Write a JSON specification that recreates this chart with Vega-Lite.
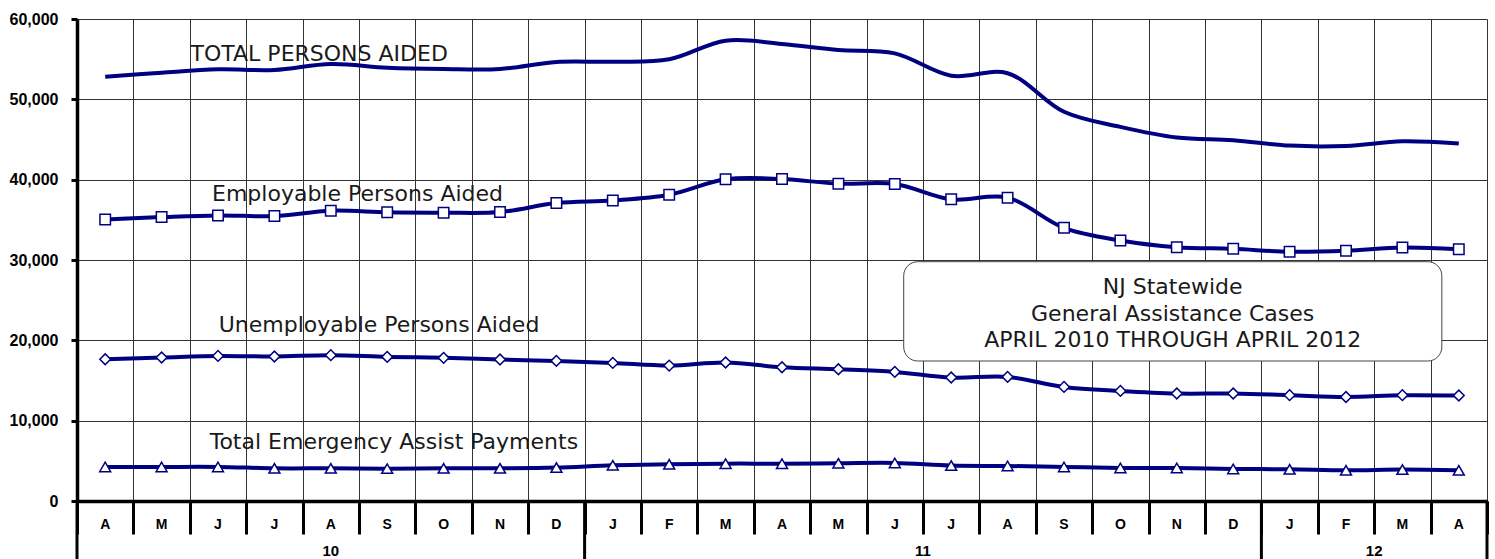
{
  "$schema": "https://vega.github.io/schema/vega-lite/v6.json",
  "width": 1410,
  "height": 482,
  "autosize": {"type": "none"},
  "padding": {"left": 77, "top": 19, "right": 8, "bottom": 58},
  "config": {
    "view": {"stroke": null},
    "axis": {"domainColor": "black", "tickColor": "black", "gridColor": "#333333", "gridWidth": 1, "gridOpacity": 1, "labelColor": "black"}
  },
  "data": {
    "values": [
      {"i": 0, "month": "2010-04", "m": "A", "year": "10", "total": 52820, "emp": 35050, "unemp": 17650, "emerg": 4240},
      {"i": 1, "month": "2010-05", "m": "M", "year": "10", "total": 53320, "emp": 35340, "unemp": 17860, "emerg": 4240},
      {"i": 2, "month": "2010-06", "m": "J", "year": "10", "total": 53730, "emp": 35550, "unemp": 18060, "emerg": 4240},
      {"i": 3, "month": "2010-07", "m": "J", "year": "10", "total": 53650, "emp": 35470, "unemp": 17990, "emerg": 4070},
      {"i": 4, "month": "2010-08", "m": "A", "year": "10", "total": 54400, "emp": 36140, "unemp": 18150, "emerg": 4070},
      {"i": 5, "month": "2010-09", "m": "S", "year": "10", "total": 53940, "emp": 35930, "unemp": 17940, "emerg": 4030},
      {"i": 6, "month": "2010-10", "m": "O", "year": "10", "total": 53770, "emp": 35890, "unemp": 17820, "emerg": 4070},
      {"i": 7, "month": "2010-11", "m": "N", "year": "10", "total": 53770, "emp": 35970, "unemp": 17610, "emerg": 4070},
      {"i": 8, "month": "2010-12", "m": "D", "year": "10", "total": 54650, "emp": 37090, "unemp": 17440, "emerg": 4160},
      {"i": 9, "month": "2011-01", "m": "J", "year": "11", "total": 54680, "emp": 37420, "unemp": 17190, "emerg": 4450},
      {"i": 10, "month": "2011-02", "m": "F", "year": "11", "total": 54980, "emp": 38130, "unemp": 16860, "emerg": 4570},
      {"i": 11, "month": "2011-03", "m": "M", "year": "11", "total": 57300, "emp": 40040, "unemp": 17240, "emerg": 4650},
      {"i": 12, "month": "2011-04", "m": "A", "year": "11", "total": 56890, "emp": 40080, "unemp": 16650, "emerg": 4650},
      {"i": 13, "month": "2011-05", "m": "M", "year": "11", "total": 56140, "emp": 39500, "unemp": 16400, "emerg": 4700},
      {"i": 14, "month": "2011-06", "m": "J", "year": "11", "total": 55720, "emp": 39460, "unemp": 16070, "emerg": 4740},
      {"i": 15, "month": "2011-07", "m": "J", "year": "11", "total": 52940, "emp": 37550, "unemp": 15370, "emerg": 4410},
      {"i": 16, "month": "2011-08", "m": "A", "year": "11", "total": 53250, "emp": 37760, "unemp": 15450, "emerg": 4360},
      {"i": 17, "month": "2011-09", "m": "S", "year": "11", "total": 48450, "emp": 34000, "unemp": 14200, "emerg": 4240},
      {"i": 18, "month": "2011-10", "m": "O", "year": "11", "total": 46570, "emp": 32430, "unemp": 13700, "emerg": 4110},
      {"i": 19, "month": "2011-11", "m": "N", "year": "11", "total": 45240, "emp": 31600, "unemp": 13380, "emerg": 4110},
      {"i": 20, "month": "2011-12", "m": "D", "year": "11", "total": 44910, "emp": 31390, "unemp": 13380, "emerg": 3990},
      {"i": 21, "month": "2012-01", "m": "J", "year": "12", "total": 44240, "emp": 31020, "unemp": 13170, "emerg": 3950},
      {"i": 22, "month": "2012-02", "m": "F", "year": "12", "total": 44200, "emp": 31150, "unemp": 12950, "emerg": 3820},
      {"i": 23, "month": "2012-03", "m": "M", "year": "12", "total": 44780, "emp": 31560, "unemp": 13170, "emerg": 3910},
      {"i": 24, "month": "2012-04", "m": "A", "year": "12", "total": 44490, "emp": 31350, "unemp": 13130, "emerg": 3820}
    ]
  },
  "layer": [
    {
      "mark": {"type": "line", "interpolate": "catmull-rom", "color": "#000080", "strokeWidth": 4},
      "encoding": {
        "x": {
          "field": "i", "type": "quantitative", "title": null,
          "scale": {"domain": [-0.5, 24.5], "nice": false, "zero": false},
          "axis": {
            "values": [-0.5, 0.5, 1.5, 2.5, 3.5, 4.5, 5.5, 6.5, 7.5, 8.5, 9.5, 10.5, 11.5, 12.5, 13.5, 14.5, 15.5, 16.5, 17.5, 18.5, 19.5, 20.5, 21.5, 22.5, 23.5, 24.5],
            "labels": false, "grid": true, "ticks": true, "tickSize": 33, "tickWidth": 3, "domainWidth": 3.5
          }
        },
        "y": {
          "field": "total", "type": "quantitative", "title": null,
          "scale": {"domain": [0, 60000], "nice": false, "zero": true},
          "axis": {
            "values": [0, 10000, 20000, 30000, 40000, 50000, 60000],
            "labelExpr": "format(datum.value, ',')",
            "labelFont": "Liberation Sans", "labelFontWeight": "bold", "labelFontSize": 16,
            "labelPadding": 13, "tickSize": 6, "tickWidth": 3, "domainWidth": 3.5, "grid": true
          }
        }
      }
    },
    {
      "mark": {"type": "line", "interpolate": "catmull-rom", "color": "#000080", "strokeWidth": 4},
      "encoding": {
        "x": {"field": "i", "type": "quantitative", "title": null},
        "y": {"field": "emp", "type": "quantitative", "title": null}
      }
    },
    {
      "mark": {"type": "point", "shape": "square", "filled": true, "fill": "white", "stroke": "#000080", "strokeWidth": 1.5, "size": 110, "opacity": 1},
      "encoding": {
        "x": {"field": "i", "type": "quantitative", "title": null},
        "y": {"field": "emp", "type": "quantitative", "title": null}
      }
    },
    {
      "mark": {"type": "line", "interpolate": "catmull-rom", "color": "#000080", "strokeWidth": 4},
      "encoding": {
        "x": {"field": "i", "type": "quantitative", "title": null},
        "y": {"field": "unemp", "type": "quantitative", "title": null}
      }
    },
    {
      "mark": {"type": "point", "shape": "diamond", "filled": true, "fill": "white", "stroke": "#000080", "strokeWidth": 1.5, "size": 115, "opacity": 1},
      "encoding": {
        "x": {"field": "i", "type": "quantitative", "title": null},
        "y": {"field": "unemp", "type": "quantitative", "title": null}
      }
    },
    {
      "mark": {"type": "line", "interpolate": "catmull-rom", "color": "#000080", "strokeWidth": 4},
      "encoding": {
        "x": {"field": "i", "type": "quantitative", "title": null},
        "y": {"field": "emerg", "type": "quantitative", "title": null}
      }
    },
    {
      "mark": {"type": "point", "shape": "triangle-up", "filled": true, "fill": "white", "stroke": "#000080", "strokeWidth": 1.5, "size": 120, "opacity": 1},
      "encoding": {
        "x": {"field": "i", "type": "quantitative", "title": null},
        "y": {"field": "emerg", "type": "quantitative", "title": null}
      }
    },
    {
      "mark": {"type": "text", "font": "Liberation Sans", "fontWeight": "bold", "fontSize": 14, "align": "center", "baseline": "alphabetic", "color": "black"},
      "encoding": {
        "x": {"field": "i", "type": "quantitative", "title": null},
        "text": {"field": "m"},
        "y": {"datum": -3448, "type": "quantitative"}
      }
    },
    {
      "mark": {"type": "text", "font": "Liberation Sans", "fontWeight": "bold", "fontSize": 15, "align": "center", "baseline": "alphabetic", "color": "black"},
      "encoding": {
        "x": {"aggregate": "mean", "field": "i", "type": "quantitative", "title": null},
        "text": {"field": "year"},
        "y": {"datum": -6880, "type": "quantitative"}
      }
    },
    {
      "mark": {"type": "rule", "xOffset": -28.2, "strokeWidth": 3, "color": "black"},
      "encoding": {
        "x": {"aggregate": "min", "field": "i", "type": "quantitative", "title": null},
        "detail": {"field": "year"},
        "y": {"datum": 0, "type": "quantitative"},
        "y2": {"datum": -7600}
      }
    },
    {
      "mark": {"type": "rule", "xOffset": 28.2, "strokeWidth": 3, "color": "black"},
      "encoding": {
        "x": {"aggregate": "max", "field": "i", "type": "quantitative", "title": null},
        "y": {"datum": 0, "type": "quantitative"},
        "y2": {"datum": -7600}
      }
    },
    {
      "transform": [{"filter": "datum.i == 0"}],
      "mark": {"type": "text", "text": "TOTAL PERSONS AIDED", "font": "DejaVu Sans", "fontSize": 22, "align": "left", "baseline": "alphabetic", "color": "#1a1a1a"},
      "encoding": {
        "x": {"datum": 1.514, "type": "quantitative"},
        "y": {"datum": 54770, "type": "quantitative"}
      }
    },
    {
      "transform": [{"filter": "datum.i == 0"}],
      "mark": {"type": "text", "text": "Employable Persons Aided", "font": "DejaVu Sans", "fontSize": 22, "align": "left", "baseline": "alphabetic", "color": "#1a1a1a"},
      "encoding": {
        "x": {"datum": 1.894, "type": "quantitative"},
        "y": {"datum": 37344, "type": "quantitative"}
      }
    },
    {
      "transform": [{"filter": "datum.i == 0"}],
      "mark": {"type": "text", "text": "Unemployable Persons Aided", "font": "DejaVu Sans", "fontSize": 22, "align": "left", "baseline": "alphabetic", "color": "#1a1a1a"},
      "encoding": {
        "x": {"datum": 2.012, "type": "quantitative"},
        "y": {"datum": 21075, "type": "quantitative"}
      }
    },
    {
      "transform": [{"filter": "datum.i == 0"}],
      "mark": {"type": "text", "text": "Total Emergency Assist Payments", "font": "DejaVu Sans", "fontSize": 22, "align": "left", "baseline": "alphabetic", "color": "#1a1a1a"},
      "encoding": {
        "x": {"datum": 1.853, "type": "quantitative"},
        "y": {"datum": 6473, "type": "quantitative"}
      }
    },
    {
      "transform": [{"filter": "datum.i == 0"}],
      "mark": {"type": "rect", "fill": "white", "stroke": "#444444", "strokeWidth": 1, "cornerRadius": 14},
      "encoding": {
        "x": {"datum": 14.158, "type": "quantitative"},
        "x2": {"datum": 23.699},
        "y": {"datum": 29788, "type": "quantitative"},
        "y2": {"datum": 17427}
      }
    },
    {
      "transform": [{"filter": "datum.i == 0"}],
      "mark": {"type": "text", "font": "DejaVu Sans", "fontSize": 22, "align": "center", "baseline": "alphabetic", "color": "#1a1a1a", "lineHeight": 26.7,
        "text": ["NJ Statewide", "General Assistance Cases", "APRIL 2010 THROUGH APRIL 2012"]},
      "encoding": {
        "x": {"datum": 18.927, "type": "quantitative"},
        "y": {"datum": 25767, "type": "quantitative"}
      }
    }
  ]
}
